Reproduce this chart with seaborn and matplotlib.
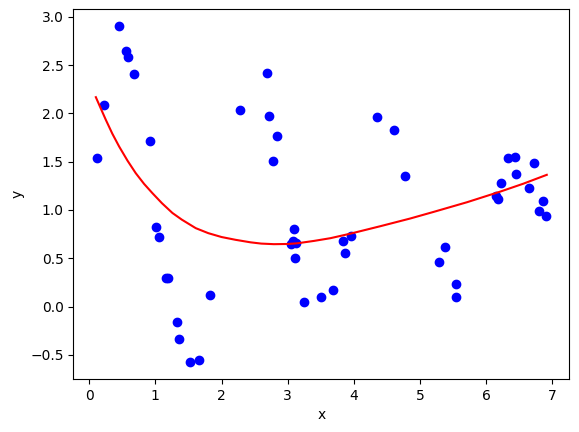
import numpy as np
import pandas as pd
import matplotlib
matplotlib.use('Agg')
import matplotlib.pyplot as plt
import seaborn as sns

# Scatter points
x = [0.453, 0.558, 0.588, 0.679, 0.226, 0.121, 0.916, 2.278, 2.685, 2.715,
     2.836, 2.771, 1.011, 1.051, 1.162, 1.192, 1.825, 1.327, 1.358, 1.524,
     1.665, 3.092, 3.077, 3.133, 3.043, 3.108, 3.243, 3.500, 3.691, 3.832,
     3.952, 3.862, 4.345, 4.601, 4.767, 5.381, 5.280, 5.536, 5.536, 6.336,
     6.441, 6.728, 6.456, 6.230, 6.648, 6.150, 6.185, 6.864, 6.803, 6.909]
y = [2.904, 2.645, 2.589, 2.407, 2.086, 1.537, 1.713, 2.034, 2.420, 1.978,
     1.768, 1.506, 0.822, 0.719, 0.294, 0.294, 0.118, -0.161, -0.337, -0.576,
     -0.555, 0.802, 0.680, 0.657, 0.646, 0.501, 0.046, 0.101, 0.173, 0.677,
     0.735, 0.556, 1.961, 1.827, 1.354, 0.615, 0.463, 0.232, 0.097, 1.537,
     1.547, 1.485, 1.374, 1.284, 1.226, 1.146, 1.112, 1.092, 0.988, 0.936]

# Fitted curve
fit_x = [0.101, 0.170, 0.252, 0.350, 0.453, 0.580, 0.704, 0.830, 0.956, 1.100,
         1.258, 1.400, 1.610, 1.800, 2.000, 2.213, 2.439, 2.600, 2.791, 3.000,
         3.144, 3.400, 3.646, 3.948, 4.400, 4.853, 5.204, 5.708, 6.211, 6.560,
         6.915]
fit_y = [2.168, 2.060, 1.933, 1.790, 1.657, 1.510, 1.381, 1.270, 1.174, 1.070,
         0.969, 0.900, 0.812, 0.760, 0.720, 0.691, 0.665, 0.652, 0.646, 0.648,
         0.655, 0.680, 0.708, 0.755, 0.832, 0.912, 0.980, 1.080, 1.190, 1.272,
         1.364]

df = pd.DataFrame({'x': x, 'y': y})
fit = pd.DataFrame({'x': fit_x, 'y': fit_y})

fig = plt.figure(figsize=(5.79, 4.32), dpi=100)
ax = fig.add_axes([0.1266, 0.1227, 0.8567, 0.8558])

sns.scatterplot(data=df, x='x', y='y', color='blue', s=36,
                edgecolor='blue', linewidth=1, ax=ax)
sns.lineplot(data=fit, x='x', y='y', color='red', lw=1.5, sort=False, ax=ax)

ax.set_xlabel('x')
ax.set_ylabel('y')

fig.savefig('out.png', dpi=100)
